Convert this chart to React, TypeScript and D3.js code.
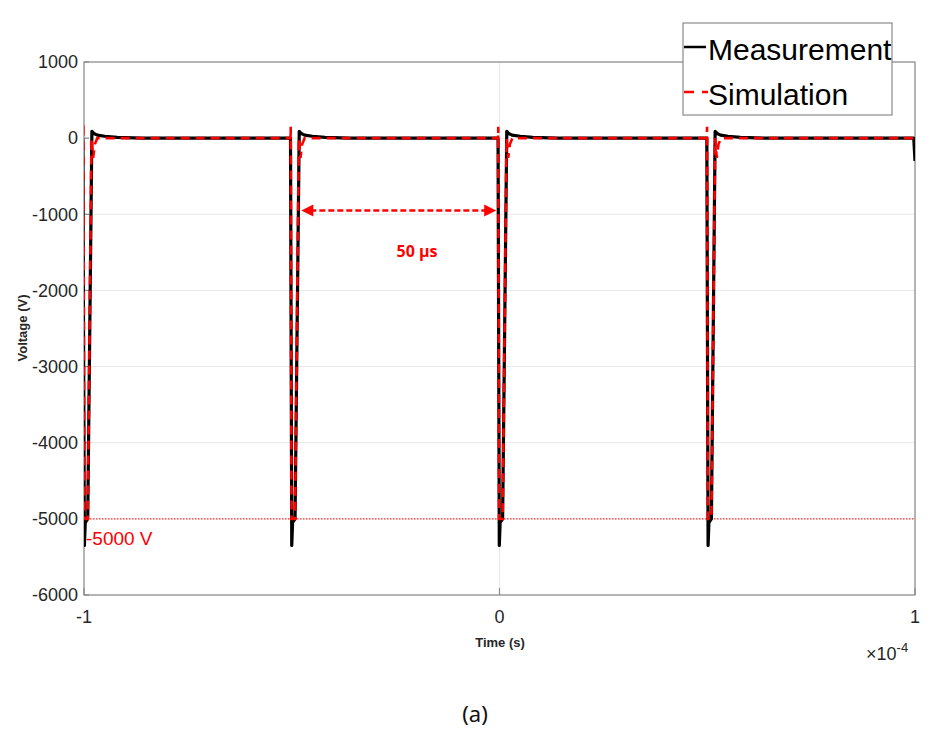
import React from "react";
import * as d3 from "d3";

// time in microseconds, voltage in volts
const measTime = [
  -100.3, -99.9, -99.7, -99.1, -98.1, -97.6, -96.8, -95, -92, -86,
  -50.3, -50.0, -49.8, -49.2, -48.2, -47.7, -46.9, -45, -42, -36,
  -0.35, -0.05, 0.15, 0.75, 1.75, 2.2, 3.0, 5, 8, 14,
  49.9, 50.2, 50.4, 51.0, 51.9, 52.4, 53.2, 55, 58, 64,
  99.7, 100,
];
const measVolt = [
  0, -5350, -5050, -5000, 90, 60, 40, 25, 10, 0,
  0, -5350, -5050, -5000, 90, 60, 40, 25, 10, 0,
  0, -5350, -5050, -5000, 90, 60, 40, 25, 10, 0,
  0, -5350, -5050, -5000, 90, 60, 40, 25, 10, 0,
  0, -300,
];

const simTime = [
  -100.2, -100.15, -99.9, -99.1, -98.2, -97.8, -97.4, -96.8,
  -50.3, -50.25, -50.05, -49.2, -48.3, -47.9, -47.5, -46.9,
  -0.35, -0.3, -0.1, 0.75, 1.7, 2.1, 2.5, 3.1,
  49.9, 49.95, 50.15, 51.0, 51.9, 52.3, 52.7, 53.3,
  100,
];
const simVolt = [
  150, 150, -5000, -5000, 0, -260, -80, 0,
  0, 150, -5000, -5000, 0, -260, -80, 0,
  0, 150, -5000, -5000, 0, -260, -80, 0,
  0, 150, -5000, -5000, 0, -260, -80, 0,
  0,
];

const yTicks = [-6000, -5000, -4000, -3000, -2000, -1000, 0, 1000];
const xTicks = [-100, 0, 100];
const xTickLabels = ["-1", "0", "1"];

const refLevel = -5000;
const arrowStart = -47.7;
const arrowEnd = -0.8;
const arrowLevel = -950;

const W = 936;
const H = 743;
const left = 84;
const right = 915;
const top = 62;
const bottom = 595;

export default function App() {
  const x = d3.scaleLinear().domain([-100, 100]).range([left, right]);
  const y = d3.scaleLinear().domain([-6000, 1000]).range([bottom, top]);

  const line = d3
    .line<[number, number]>()
    .x((d) => x(d[0]))
    .y((d) => y(d[1]));

  const meas: [number, number][] = measTime.map((t, i) => [t, measVolt[i]]);
  const sim: [number, number][] = simTime.map((t, i) => [t, simVolt[i]]);

  const font = "'Liberation Sans', Arial, sans-serif";
  const tickColor = "#262626";
  const axisColor = "#8a8a8a";
  const red = "#ff0000";

  const ay = y(arrowLevel);
  const ax0 = x(arrowStart);
  const ax1 = x(arrowEnd);

  return (
    <svg
      width={W}
      height={H}
      style={{ position: "absolute", left: 0, top: 0, background: "#fff" }}
    >
      <defs>
        <clipPath id="plotClip">
          <rect x={left} y={top - 20} width={right - left} height={bottom - top + 20} />
        </clipPath>
      </defs>
      <rect x={0} y={0} width={W} height={H} fill="#fff" />

      {/* grid */}
      {yTicks.map((v) => (
        <line key={"gy" + v} x1={left} x2={right} y1={y(v)} y2={y(v)} stroke="#e8e8e8" strokeWidth={1} />
      ))}
      {xTicks.map((v) => (
        <line key={"gx" + v} x1={x(v)} x2={x(v)} y1={top} y2={bottom} stroke="#e8e8e8" strokeWidth={1} />
      ))}

      {/* axis box */}
      <rect x={left} y={top} width={right - left} height={bottom - top} fill="none" stroke={axisColor} strokeWidth={1.2} />

      {/* ticks */}
      {yTicks.map((v) => (
        <g key={"ty" + v}>
          <line x1={left} x2={left + 5} y1={y(v)} y2={y(v)} stroke={axisColor} strokeWidth={1.2} />
          <text x={left - 6} y={y(v)} dy="0.35em" textAnchor="end" fontFamily={font} fontSize={18} fill={tickColor}>
            {v}
          </text>
        </g>
      ))}
      {xTicks.map((v, i) => (
        <g key={"tx" + v}>
          <line x1={x(v)} x2={x(v)} y1={bottom} y2={bottom - 7} stroke={axisColor} strokeWidth={1.2} />
          <text x={x(v)} y={623} textAnchor="middle" fontFamily={font} fontSize={18} fill={tickColor}>
            {xTickLabels[i]}
          </text>
        </g>
      ))}

      {/* axis labels */}
      <text x={500} y={647} textAnchor="middle" fontFamily={font} fontSize={13} fontWeight="bold" fill={tickColor}>
        Time (s)
      </text>
      <text
        transform={`translate(27,${328}) rotate(-90)`}
        textAnchor="middle"
        fontFamily={font}
        fontSize={13}
        fontWeight="bold"
        fill={tickColor}
      >
        Voltage (V)
      </text>
      <text x={866} y={660} fontFamily={font} fontSize={18} fill={tickColor}>
        {"\u00d710"}
        <tspan dy={-8} fontSize={13}>-4</tspan>
      </text>

      {/* reference level */}
      <line x1={left} x2={right} y1={y(refLevel)} y2={y(refLevel)} stroke="#ff3030" strokeWidth={1.2} strokeDasharray="1.5 1.5" />

      {/* series */}
      <g clipPath="url(#plotClip)">
        <path d={line(meas) || ""} fill="none" stroke="#000" strokeWidth={3.2} strokeLinejoin="round" />
        <path d={line(sim) || ""} fill="none" stroke={red} strokeWidth={2.6} strokeDasharray="9 6" />
      </g>

      <text x={86} y={545} fontFamily={font} fontSize={19} fill={red}>
        -5000 V
      </text>

      {/* 50 µs annotation */}
      <line x1={ax0 + 9} x2={ax1 - 9} y1={ay} y2={ay} stroke={red} strokeWidth={2.5} strokeDasharray="6 3" />
      <path d={`M${ax0},${ay} L${ax0 + 12},${ay - 6} L${ax0 + 12},${ay + 6} Z`} fill={red} />
      <path d={`M${ax1},${ay} L${ax1 - 12},${ay - 6} L${ax1 - 12},${ay + 6} Z`} fill={red} />
      <text x={417} y={257} textAnchor="middle" fontFamily="'Open Sans', sans-serif" fontSize={16} fontWeight="bold" fill={red}>
        50 µs
      </text>

      {/* legend */}
      <rect x={683} y={23} width={209} height={92} fill="#fff" stroke={axisColor} strokeWidth={1.2} />
      <line x1={684} x2={706} y1={47} y2={47} stroke="#000" strokeWidth={2.5} />
      <text x={708} y={60} fontFamily={font} fontSize={30} fill="#000">
        Measurement
      </text>
      <line x1={684} x2={708} y1={92} y2={92} stroke={red} strokeWidth={2.5} strokeDasharray="10 8" />
      <text x={708} y={105} fontFamily={font} fontSize={30} fill="#000">
        Simulation
      </text>

      {/* caption */}
      <text x={475} y={722} textAnchor="middle" fontFamily="'Noto Sans', sans-serif" fontSize={22} fill="#111">
        (a)
      </text>
    </svg>
  );
}
